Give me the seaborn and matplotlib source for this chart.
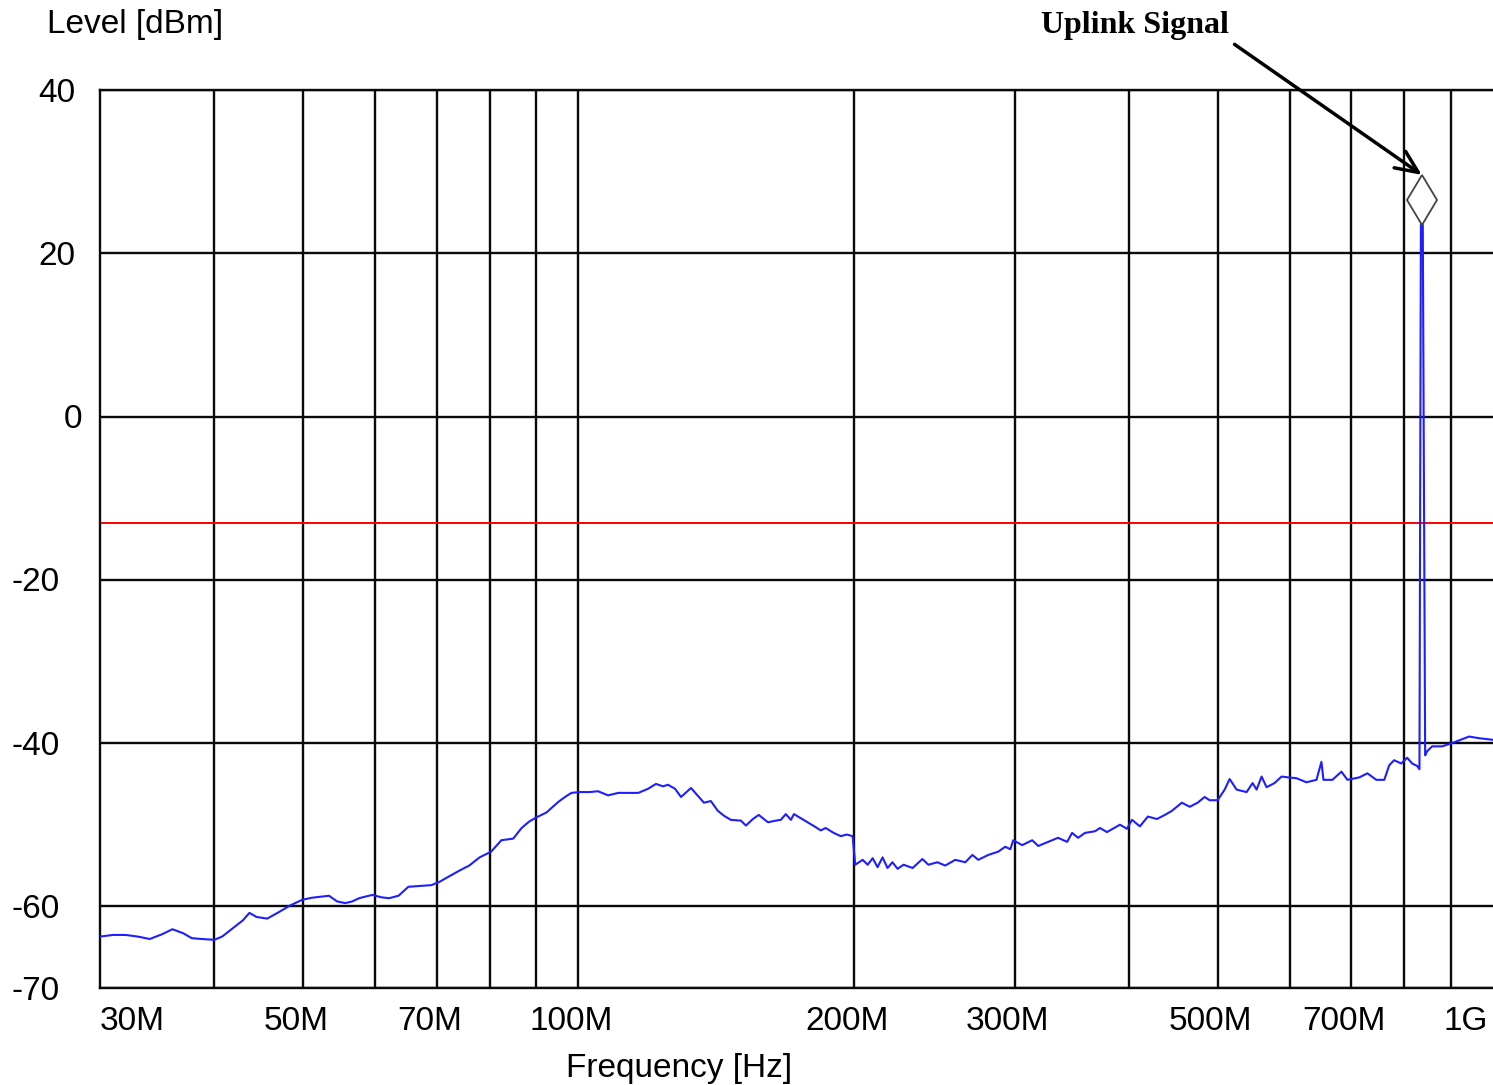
import matplotlib
matplotlib.use("Agg")
import matplotlib.pyplot as plt
import matplotlib.transforms as mtransforms
from matplotlib.ticker import NullLocator
import seaborn as sns
import pandas as pd

# ---------------- data ----------------
freq_mhz = [30.0, 31.0, 32.0, 33.0, 34.0, 35.1, 36.0, 37.0, 37.8, 38.8, 40.0, 40.8, 42.0, 43.0, 43.7,
            44.5, 45.7, 46.9, 48.4, 49.9, 51.1, 52.4, 53.4, 54.5, 55.6, 56.6, 57.6, 59.5, 61.0, 62.1,
            63.6, 65.2, 67.1, 69.1, 70.5, 72.3, 74.2, 76.0, 78.0, 80.3, 82.4, 84.9, 86.7, 88.4, 90.0,
            92.3, 95.1, 97.0, 98.3, 100.3, 102.8, 105.1, 107.8, 110.6, 113.4, 116.3, 119.2, 121.6,
            123.8, 125.3, 127.6, 129.5, 132.8, 135.2, 137.2, 139.6, 142.1, 144.3, 146.8, 150.6, 152.5,
            155.2, 157.5, 161.2, 164.4, 166.5, 168.6, 170.8, 172.1, 175.1, 178.2, 181.8, 184.1, 186.4,
            190.2, 193.6, 196.5, 199.5, 200.8, 204.6, 207.2, 209.8, 212.4, 215.1, 217.8, 220.5, 223.4,
            226.8, 232.0, 237.8, 241.4, 246.9, 251.9, 258.3, 264.9, 269.7, 273.7, 280.7, 287.8, 292.9,
            296.7, 298.9, 305.7, 313.5, 318.3, 326.4, 334.6, 342.3, 346.6, 351.9, 358.1, 367.2, 371.8,
            378.4, 391.0, 398.0, 403.0, 411.1, 419.5, 429.1, 437.8, 445.6, 456.9, 466.1, 475.5, 483.9,
            490.0, 500.0, 508.9, 515.3, 524.5, 537.8, 546.0, 551.5, 558.5, 565.5, 577.0, 587.2, 597.0,
            609.7, 625.2, 641.2, 649.3, 652.6, 667.5, 682.8, 693.2, 714.4, 728.9, 745.5, 760.6, 770.2,
            779.8, 793.7, 805.7, 815.9, 826.2, 831.0, 834.0, 838.0, 843.0, 847.2, 857.9, 879.7, 902.1,
            941.5, 965.4, 1000.0]
level_dbm = [-63.7, -63.5, -63.5, -63.7, -64.0, -63.4, -62.8, -63.3, -63.9, -64.0, -64.1, -63.7, -62.6,
             -61.7, -60.8, -61.3, -61.5, -60.8, -59.9, -59.2, -58.95, -58.8, -58.7, -59.4, -59.6, -59.4,
             -59.0, -58.6, -58.9, -59.0, -58.7, -57.6, -57.5, -57.4, -57.0, -56.3, -55.6, -55.0, -54.0,
             -53.3, -51.9, -51.7, -50.4, -49.6, -49.1, -48.5, -47.2, -46.5, -46.1, -46.0, -46.0, -45.9,
             -46.4, -46.1, -46.1, -46.1, -45.6, -45.0, -45.3, -45.1, -45.6, -46.6, -45.5, -46.5, -47.3,
             -47.1, -48.3, -48.9, -49.4, -49.5, -50.1, -49.3, -48.8, -49.7, -49.5, -49.4, -48.7, -49.4,
             -48.7, -49.2, -49.7, -50.3, -50.7, -50.4, -51.0, -51.4, -51.2, -51.4, -54.9, -54.3, -54.9,
             -54.1, -55.2, -54.0, -55.3, -54.6, -55.4, -54.9, -55.3, -54.2, -54.9, -54.6, -55.0, -54.3,
             -54.6, -53.7, -54.3, -53.7, -53.3, -52.7, -53.0, -51.9, -52.5, -51.9, -52.6, -52.1, -51.6,
             -52.1, -51.0, -51.6, -51.0, -50.8, -50.4, -50.9, -50.0, -50.5, -49.4, -50.2, -49.0, -49.3,
             -48.8, -48.3, -47.3, -47.8, -47.3, -46.6, -47.0, -47.0, -45.7, -44.4, -45.7, -46.0, -44.9,
             -45.7, -44.1, -45.4, -44.9, -44.1, -44.2, -44.3, -44.8, -44.5, -42.3, -44.5, -44.5, -43.5,
             -44.5, -44.2, -43.7, -44.5, -44.5, -42.7, -42.1, -42.5, -41.8, -42.5, -42.8, -43.2, 23.5,
             23.5, -41.5, -41.0, -40.4, -40.4, -40.0, -39.2, -39.4, -39.6]

limit_dbm = -13
marker_freq_mhz = [836.0]
marker_level_dbm = [26.5]
annotation_text = "Uplink Signal"

grid_freqs_mhz = [40, 50, 60, 70, 80, 90, 100, 200, 300, 400, 500, 600, 700, 800, 900]
xlabel_freqs_mhz = [30, 50, 70, 100, 200, 300, 500, 700, 1000]
xlabel_texts = ["30M", "50M", "70M", "100M", "200M", "300M", "500M", "700M", "1G"]
yticks = [40, 20, 0, -20, -40, -60, -70]
ytick_texts = ["40", "20", "0", "-20", "-40", "-60", "-70"]

df = pd.DataFrame({"freq": [f * 1e6 for f in freq_mhz], "level": level_dbm})

# ---------------- style ----------------
sns.set_theme(style="white")
plt.rcParams["font.family"] = ["Liberation Sans", "DejaVu Sans"]
plt.rcParams["text.color"] = "black"

W, H = 1493, 1085
fig = plt.figure(figsize=(W / 100, H / 100), dpi=100)
ax = fig.add_axes([100 / W, (H - 988) / H, (W - 100) / W, (988 - 90) / H])

ax.set_xscale("log")
ax.set_xlim(30e6, 1e9)
ax.set_ylim(-70, 40)

gridc = "#0a0a0a"
glw = 1.7
for f in grid_freqs_mhz:
    ax.axvline(f * 1e6, color=gridc, lw=glw, zorder=1)
for y in yticks:
    ax.axhline(y, color=gridc, lw=glw, zorder=1)

ax.axhline(limit_dbm, color="#ff0000", lw=1.4, zorder=2)

sns.lineplot(data=df, x="freq", y="level", ax=ax, color="#1e1eff", lw=1.5,
             sort=False, estimator=None, zorder=3, legend=False)

ax.plot([f * 1e6 for f in marker_freq_mhz], marker_level_dbm, marker="d", ms=25.5,
        mfc="none", mec="#444444", mew=1.3, ls="none", zorder=4)

# axis cosmetics
ax.xaxis.set_minor_locator(NullLocator())
ax.yaxis.set_minor_locator(NullLocator())
ax.set_xticks([])
ax.set_yticks([])
ax.set_xlabel("")
ax.set_ylabel("")
for s in ["left", "bottom", "top"]:
    ax.spines[s].set_color(gridc)
    ax.spines[s].set_linewidth(glw)
ax.spines["right"].set_visible(False)

fs = 24
txt_kw = dict(fontsize=fs, color="black")
# x tick labels (drawn at data x, fixed figure y)
ylab = 1 - 1021 / H
bt = mtransforms.blended_transform_factory(ax.transData, fig.transFigure)
bt_off = mtransforms.offset_copy(bt, fig=fig, x=-7, y=0, units="dots")
for f, t in zip(xlabel_freqs_mhz, xlabel_texts):
    if f == xlabel_freqs_mhz[0]:
        ax.text(f * 1e6, ylab, t, transform=bt, ha="left", va="center", **txt_kw)
    elif f == xlabel_freqs_mhz[-1]:
        ax.text(f * 1e6, ylab, t, transform=mtransforms.offset_copy(bt, fig=fig, x=-5, units="dots"),
                ha="right", va="center", **txt_kw)
    else:
        ax.text(f * 1e6, ylab, t, transform=bt_off, ha="center", va="center", **txt_kw)

# y tick labels
yt = mtransforms.blended_transform_factory(fig.transFigure, ax.transData)
yt = mtransforms.offset_copy(yt, fig=fig, x=0, y=-3, units="dots")
for y, t in zip(yticks, ytick_texts):
    if y > 0:
        xr = 75
    elif y == 0:
        xr = 82
    else:
        xr = 60
    ax.text(xr / W, y, t, transform=yt, ha="right", va="center", clip_on=False, **txt_kw)

fig.text(47 / W, 1 - 25 / H, "Level [dBm]", ha="left", va="center", **txt_kw)
fig.text(679 / W, 1 - 1068 / H, "Frequency [Hz]", ha="center", va="center", **txt_kw)

ax.annotate(annotation_text,
            xy=(marker_freq_mhz[0] * 1e6, 29.6), xycoords="data",
            xytext=(1229, H - 26), textcoords="figure pixels",
            ha="right", va="center", fontsize=23, fontweight="bold", color="black",
            family=["Liberation Serif", "DejaVu Serif"],
            arrowprops=dict(arrowstyle="->,head_length=0.9,head_width=0.4",
                            mutation_scale=18, lw=2.5, color="black",
                            relpos=(1.0, 0.0), shrinkA=2, shrinkB=0))

fig.savefig("out.png", dpi=100)
